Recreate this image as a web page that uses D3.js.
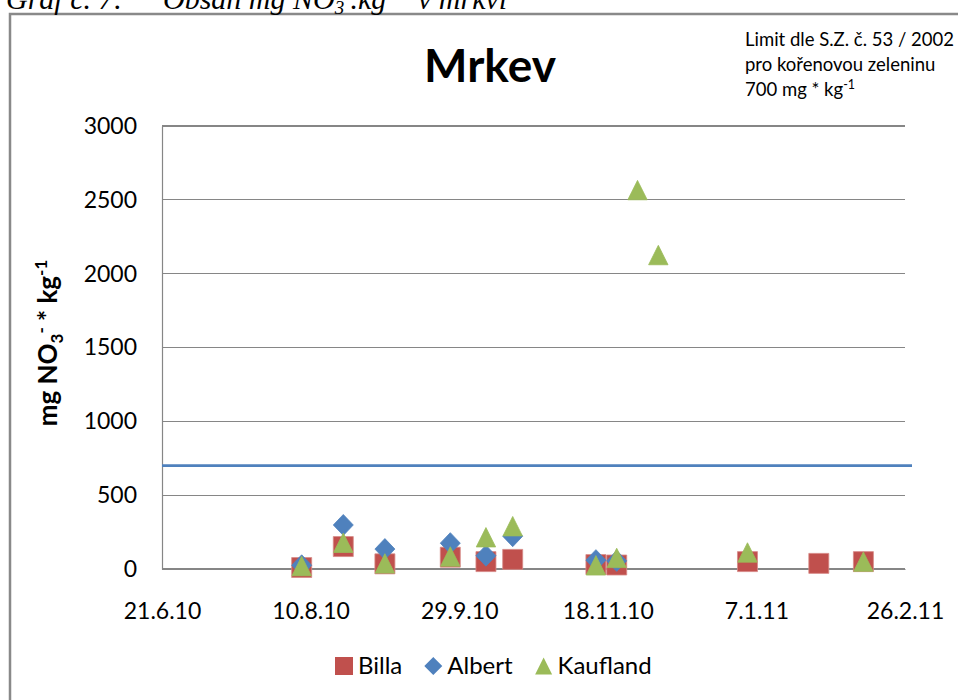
<!DOCTYPE html>
<html>
<head>
<meta charset="utf-8">
<script src="https://cdn.jsdelivr.net/npm/d3@7"></script>
<style>
  html, body { margin: 0; padding: 0; background: #fff; }
  svg { display: block; }
  text { font-family: Lato, "Open Sans", sans-serif; fill: #000; }
</style>
</head>
<body>
<svg id="chart" width="958" height="700"></svg>
<script>
// Nitrate content in carrots (mg NO3- per kg), by retailer and sampling date
const billaDates    = ["2010-08-07","2010-08-21","2010-09-04","2010-09-26","2010-10-08","2010-10-17","2010-11-14","2010-11-21","2011-01-04","2011-01-28","2011-02-12"];
const billaValues   = [10, 152, 35, 80, 50, 65, 30, 27, 50, 38, 50];

const albertDates   = ["2010-08-07","2010-08-21","2010-09-04","2010-09-26","2010-10-08","2010-10-17","2010-11-14","2010-11-21"];
const albertValues  = [25, 298, 135, 175, 90, 222, 60, 55];

const kauflandDates  = ["2010-08-07","2010-08-21","2010-09-04","2010-09-26","2010-10-08","2010-10-17","2010-11-14","2010-11-21","2010-11-28","2010-12-05","2011-01-04","2011-02-12"];
const kauflandValues = [20, 178, 38, 85, 215, 290, 25, 75, 2566, 2126, 112, 50];

const xTickDates  = ["2010-06-21","2010-08-10","2010-09-29","2010-11-18","2011-01-07","2011-02-26"];
const xTickLabels = ["21.6.10","10.8.10","29.9.10","18.11.10","7.1.11","26.2.11"];
const yTickValues = [0, 500, 1000, 1500, 2000, 2500, 3000];
const limitValue  = 700;

const parse = d3.utcParse("%Y-%m-%d");
const fmtTick = d => xTickLabels[xTickDates.indexOf(d3.utcFormat("%Y-%m-%d")(d))];

const svg = d3.select("#chart");
const plot = { left: 162, right: 905, top: 126, bottom: 569 };

const x = d3.scaleUtc()
  .domain([parse(xTickDates[0]), parse(xTickDates[xTickDates.length - 1])])
  .range([plot.left, plot.right]);
const y = d3.scaleLinear().domain([0, 3000]).range([plot.bottom, plot.top]);

// outer chart frame
svg.append("rect")
  .attr("x", 10).attr("y", 14).attr("width", 960).attr("height", 700)
  .attr("fill", "none").attr("stroke", "#898989").attr("stroke-width", 2.5);

// caption above the chart
const cap = svg.append("text")
  .attr("y", 9)
  .style("font-family", "'Liberation Serif', 'DejaVu Serif', serif")
  .style("font-style", "italic")
  .style("font-size", "30px");
cap.append("tspan").attr("x", 6).text("Graf č. 7:");
cap.append("tspan").attr("x", 163).text("Obsah mg NO");
cap.append("tspan").attr("dy", 5).style("font-size", "19px").text("3");
cap.append("tspan").attr("dy", -17).style("font-size", "19px").text("-");
cap.append("tspan").attr("dy", 12).text(".kg");
cap.append("tspan").attr("dy", -12).style("font-size", "19px").text("-1");
cap.append("tspan").attr("x", 418).attr("dy", 12).text("v mrkvi");

// title
svg.append("text")
  .attr("x", 490).attr("y", 82)
  .attr("text-anchor", "middle")
  .style("font-weight", "bold").style("font-size", "46px")
  .text("Mrkev");

// limit annotation
const note = svg.append("text").style("font-size", "18.5px");
note.append("tspan").attr("x", 745).attr("y", 46).text("Limit dle S.Z. č. 53 / 2002");
note.append("tspan").attr("x", 745).attr("y", 71).text("pro kořenovou zeleninu");
note.append("tspan").attr("x", 745).attr("y", 96).text("700 mg * kg");
note.append("tspan").attr("dy", -7).style("font-size", "12.5px").text("-1");

// horizontal gridlines
svg.append("g")
  .selectAll("line")
  .data(yTickValues)
  .join("line")
  .attr("x1", plot.left).attr("x2", plot.right)
  .attr("y1", d => y(d)).attr("y2", d => y(d))
  .attr("stroke", "#868686").attr("stroke-width", 1.2)
  .attr("shape-rendering", "crispEdges");

// y axis
const yAxis = svg.append("g")
  .attr("transform", `translate(${plot.left},0)`)
  .call(d3.axisLeft(y).tickValues(yTickValues).tickSize(0).tickPadding(25).tickFormat(d3.format("d")));
yAxis.select(".domain").attr("stroke", "#868686").attr("stroke-width", 1.2);
yAxis.selectAll("text").style("font-family", "Lato, 'Open Sans', sans-serif").style("font-size", "23px").attr("fill", "#000");

// x axis
const xAxis = svg.append("g")
  .attr("transform", `translate(0,${plot.bottom})`)
  .call(d3.axisBottom(x).tickValues(xTickDates.map(parse)).tickSize(0).tickPadding(34).tickFormat(fmtTick));
xAxis.select(".domain").attr("stroke", "#868686").attr("stroke-width", 1.2);
xAxis.selectAll("text").style("font-family", "Lato, 'Open Sans', sans-serif").style("font-size", "23px").attr("fill", "#000");

// y axis title
const yt = svg.append("text")
  .attr("transform", "translate(57,343) rotate(-90)")
  .attr("text-anchor", "middle")
  .style("font-weight", "bold").style("font-size", "26px");
yt.append("tspan").text("mg NO");
yt.append("tspan").attr("dy", 6).style("font-size", "17px").text("3");
yt.append("tspan").attr("dy", -16).style("font-size", "17px").text("-");
yt.append("tspan").attr("dy", 10).text(" * kg");
yt.append("tspan").attr("dy", -10).style("font-size", "17px").text("-1");

// limit line
svg.append("line")
  .attr("x1", plot.left).attr("x2", plot.right + 7)
  .attr("y1", y(limitValue)).attr("y2", y(limitValue))
  .attr("stroke", "#4F81BD").attr("stroke-width", 2.8);

// marker shapes
const squarePath = "M-10,-10H10V10H-10Z";
const diamondPath = "M0,-10.5L10,0L0,10.5L-10,0Z";
const trianglePath = "M0,-9.7L9.7,9.7H-9.7Z";

const series = [
  { name: "Billa", dates: billaDates, values: billaValues, color: "#C0504D", stroke: "#D78A88", path: squarePath },
  { name: "Albert", dates: albertDates, values: albertValues, color: "#4F81BD", stroke: "#4F81BD", path: diamondPath },
  { name: "Kaufland", dates: kauflandDates, values: kauflandValues, color: "#9BBB59", stroke: "#9BBB59", path: trianglePath }
];

series.forEach(s => {
  svg.append("g")
    .selectAll("path")
    .data(s.dates.map((d, i) => ({ date: parse(d), value: s.values[i] })))
    .join("path")
    .attr("d", s.path)
    .attr("transform", d => `translate(${x(d.date)},${y(d.value)})`)
    .attr("fill", s.color)
    .attr("stroke", s.stroke).attr("stroke-width", 0.8);
});

// legend
const legendPaths = {
  Billa: "M-9,-9H9V9H-9Z",
  Albert: "M0,-9L9,0L0,9L-9,0Z",
  Kaufland: "M0,-8.5L8.5,8.5H-8.5Z"
};
const legend = svg.append("g");
let lx = 335;
series.forEach(s => {
  const g = legend.append("g");
  g.append("path").attr("d", legendPaths[s.name])
    .attr("transform", `translate(${lx + 9},666)`)
    .attr("fill", s.color);
  const t = g.append("text").attr("x", lx + 23).attr("y", 674)
    .style("font-size", "24px").text(s.name);
  lx += 23 + t.node().getComputedTextLength() + 22;
});
</script>
</body>
</html>
